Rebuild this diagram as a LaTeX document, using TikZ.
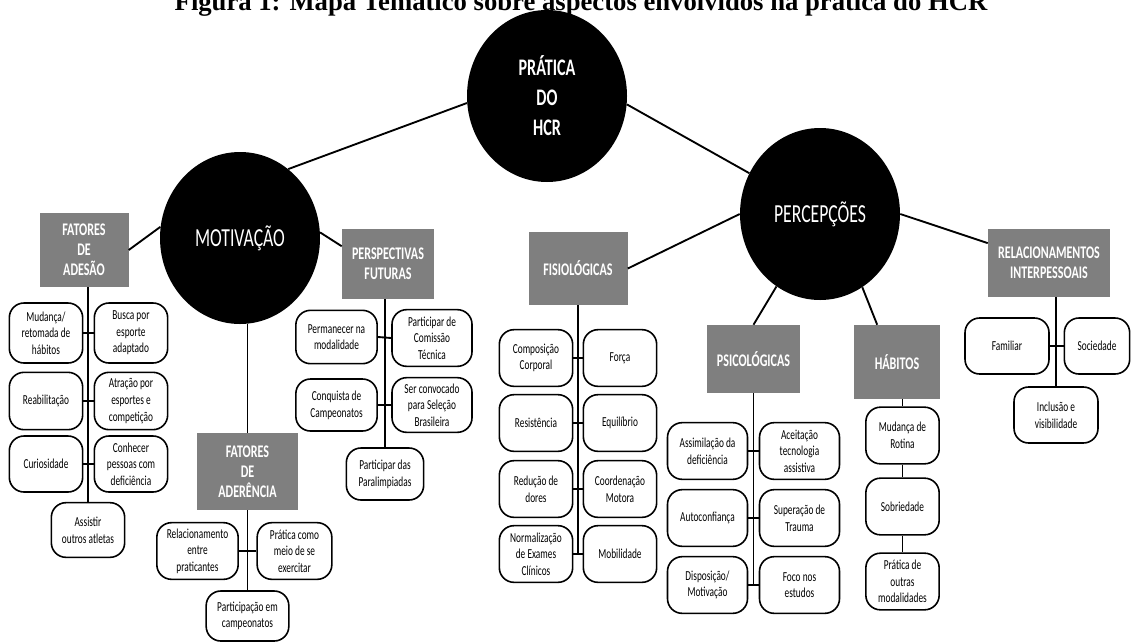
\documentclass[tikz,border=0pt]{standalone}
\usepackage{fontspec}
\setmainfont{Liberation Serif}
\newfontfamily\mapfont[FakeStretch=0.68]{Carlito}
\usetikzlibrary{shapes.geometric}
\definecolor{topicgray}{RGB}{127,127,127}
\tikzset{
  hub/.style={ellipse, fill=black, text=white, inner sep=0pt,
    minimum width=120pt, minimum height=129pt, align=center,
    font=\mapfont\fontsize{19.5}{22}\selectfont},
  topic/.style={rectangle, fill=topicgray, text=white, align=center,
    inner sep=1pt, font=\mapfont\bfseries\fontsize{13.3}{15}\selectfont},
  leaf/.style={rectangle, draw, line width=1.2pt, rounded corners=11pt,
    fill=white, align=center, inner sep=1pt,
    minimum width=55pt, minimum height=42.5pt,
    font=\mapfont\fontsize{10.3}{12.5}\selectfont},
  link/.style={line width=1.4pt}
}

\begin{document}
\begin{tikzpicture}[x=0.75pt, y=-0.75pt]
\path[use as bounding box, clip] (0,0) rectangle (1131,643);

\node[anchor=base, font=\bfseries\fontsize{20}{24}\selectfont] (title) at (581,10)
  {Figura 1: Mapa Temático sobre aspectos envolvidos na prática do HCR};

% hubs
\node[hub, font=\mapfont\bfseries\fontsize{17.8}{22.5}\selectfont] (pratica) at (547,96)
  {PRÁTICA\\DO\\HCR};
\node[hub] (motiv) at (240,238) {MOTIVAÇÃO};
\node[hub] (percep) at (820,214) {PERCEPÇÕES};

% topics
\node[topic, minimum width=66.75pt, minimum height=55.5pt] (adesao) at (84,250)
  {FATORES\\DE\\ADESÃO};
\node[topic, minimum width=75.75pt, minimum height=57.75pt] (aderencia) at (247.5,471.5)
  {FATORES\\DE\\ADERÊNCIA};
\node[topic, minimum width=69pt, minimum height=52.5pt] (perspect) at (388,264)
  {PERSPECTIVAS\\FUTURAS};
\node[topic, minimum width=74.25pt, minimum height=54.75pt] (fisio) at (578,268.5)
  {FISIOLÓGICAS};
\node[topic, minimum width=69.75pt, minimum height=51pt] (psico) at (753.5,359)
  {PSICOLÓGICAS};
\node[topic, minimum width=64.5pt, minimum height=55.5pt] (habitos) at (897,362)
  {HÁBITOS};
\node[topic, minimum width=91.5pt, minimum height=51pt] (relac) at (1049,263)
  {RELACIONAMENTOS\\INTERPESSOAIS};

% fatores de adesao
\node[leaf, minimum height=45pt] (mudanca) at (46,333) {Mudança/\\retomada de\\hábitos};
\node[leaf, minimum height=45pt] (busca) at (131,333) {Busca por\\esporte\\adaptado};
\node[leaf, minimum height=43pt] (reabil) at (46,401) {Reabilitação};
\node[leaf, minimum height=43pt] (atracao) at (131,401) {Atração por\\esportes e\\competição};
\node[leaf, minimum height=42pt] (curios) at (46,464) {Curiosidade};
\node[leaf, minimum height=42pt] (conhecer) at (131,464) {Conhecer\\pessoas com\\deficiência};
\node[leaf, minimum height=41pt] (assistir) at (88,530) {Assistir\\outros atletas};

% fatores de aderencia
\node[leaf, minimum width=61pt] (relacion) at (197.5,551) {Relacionamento\\entre\\praticantes};
\node[leaf, minimum width=56pt] (exercitar) at (294.5,551) {Prática como\\meio de se\\exercitar};
\node[leaf, minimum width=62pt, minimum height=37.5pt] (particip) at (247.5,616)
  {Participação em\\campeonatos};

% perspectivas futuras
\node[leaf, minimum width=61pt, minimum height=40pt] (permanecer) at (336.5,337)
  {Permanecer na\\modalidade};
\node[leaf, minimum width=60pt] (comissao) at (432,338) {Participar de\\Comissão\\Técnica};
\node[leaf, minimum width=61pt, minimum height=39pt] (conquista) at (336.5,405)
  {Conquista de\\Campeonatos};
\node[leaf, minimum width=60pt, minimum height=41pt] (convocado) at (432,405)
  {Ser convocado\\para Seleção\\Brasileira};
\node[leaf, minimum width=58pt, minimum height=39pt] (paralimp) at (385,474)
  {Participar das\\Paralimpiadas};

% fisiologicas
\node[leaf] (composicao) at (536,358) {Composição\\Corporal};
\node[leaf] (forca) at (620,358) {Força};
\node[leaf] (resist) at (536,423) {Resistência};
\node[leaf] (equil) at (620,423) {Equilíbrio};
\node[leaf] (reducao) at (536,489) {Redução de\\dores};
\node[leaf] (coord) at (620,489) {Coordenação\\Motora};
\node[leaf] (normal) at (536,554) {Normalização\\de Exames\\Clínicos};
\node[leaf] (mobil) at (620,554) {Mobilidade};

% psicologicas
\node[leaf, minimum width=60pt] (assim) at (707.5,451) {Assimilação da\\deficiência};
\node[leaf, minimum width=60pt] (aceit) at (799.5,451) {Aceitação\\tecnologia\\assistiva};
\node[leaf, minimum width=60pt] (autoconf) at (707.5,518) {Autoconfiança};
\node[leaf, minimum width=60pt] (superacao) at (799.5,518) {Superação de\\Trauma};
\node[leaf, minimum width=60pt] (dispos) at (707.5,585) {Disposição/\\Motivação};
\node[leaf, minimum width=60pt] (foco) at (799.5,585) {Foco nos\\estudos};

% habitos
\node[leaf] (rotina) at (902.5,435.5) {Mudança de\\Rotina};
\node[leaf] (sobried) at (902.5,506.5) {Sobriedade};
\node[leaf] (outras) at (902.5,581.5) {Prática de\\outras\\modalidades};

% relacionamentos
\node[leaf, minimum width=63pt, minimum height=42pt] (familiar) at (1007,346) {Familiar};
\node[leaf, minimum width=49pt, minimum height=42pt] (sociedade) at (1097,346) {Sociedade};
\node[leaf, minimum width=63pt, minimum height=42pt] (inclusao) at (1056,415)
  {Inclusão e\\visibilidade};

\draw[link] (pratica.185) -- (motiv.55);
\draw[link] (pratica.354) -- (percep.150);
\draw[link] (adesao.east) -- (motiv.172);
\draw[link] (motiv.4) -- (perspect.159);
\draw[link] (aderencia.north) -- (aderencia.north |- motiv.south);
\draw[link] (fisio.east) -- (percep.west);
\draw[link] (psico.north) -- (percep.239);
\draw[link] (habitos.118) -- (percep.300);
\draw[link] (percep.east) -- (relac.162);

\draw[link] (assistir.north |- adesao.south) -- (assistir.north);
\draw[link] (aderencia.south) -- (particip.north);
\draw[link] (paralimp.north |- perspect.south) -- (paralimp.north);
\draw[link] (fisio.south) -- (fisio.south |- mobil.west);
\draw[link] (psico.south) -- (psico.south |- foco.west);
\draw[link] (rotina.north |- habitos.south) -- (rotina.north) (rotina.south) -- (sobried.north)
  (sobried.south) -- (outras.north);
\draw[link] (inclusao.north |- relac.south) -- (inclusao.north);

\foreach \l/\r in {mudanca/busca, reabil/atracao, curios/conhecer,
    relacion/exercitar, permanecer/comissao, conquista/convocado,
    composicao/forca, resist/equil, reducao/coord, normal/mobil,
    assim/aceit, autoconf/superacao, dispos/foco, familiar/sociedade}
  \draw[link] (\l.east) -- (\r.west);
\end{tikzpicture}
\end{document}
